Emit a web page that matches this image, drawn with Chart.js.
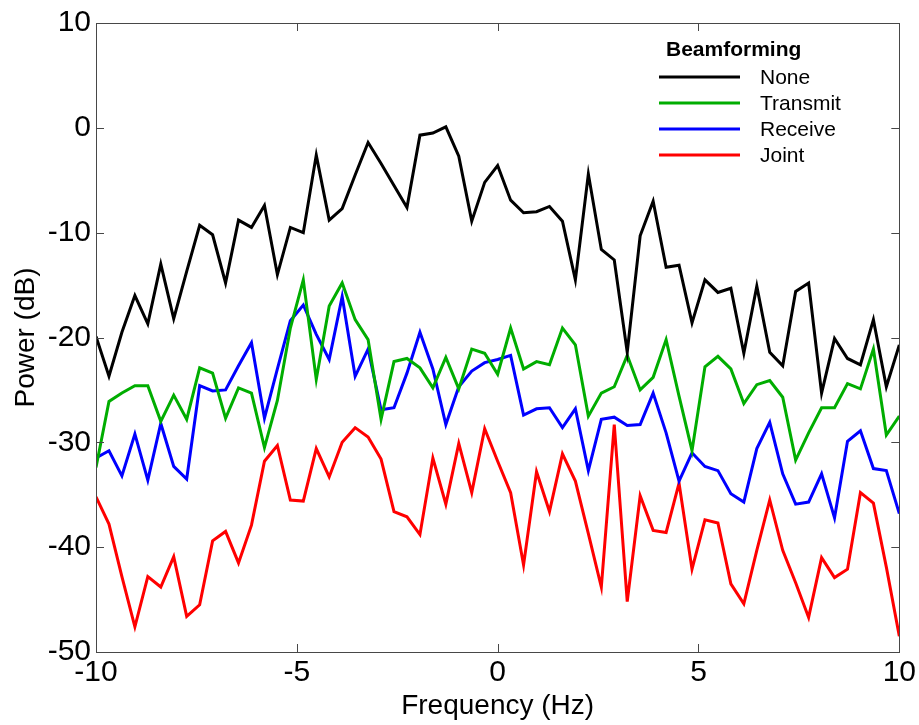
<!DOCTYPE html>
<html>
<head>
<meta charset="utf-8">
<title>Beamforming power spectrum</title>
<script src="https://cdn.jsdelivr.net/npm/chart.js@4.4.1/dist/chart.umd.min.js"></script>
<style>
  body { margin: 0; background: #fff; }
  canvas { display: block; }
</style>
</head>
<body>
<canvas id="powerChart" width="919" height="725"></canvas>
<script>
// frequency bins (Hz)
const freqs = [
    -10, -9.677, -9.355, -9.032, -8.710, -8.387, -8.065, -7.742, -7.419, -7.097,
    -6.774, -6.452, -6.129, -5.806, -5.484, -5.161, -4.839, -4.516, -4.194, -3.871,
    -3.548, -3.226, -2.903, -2.581, -2.258, -1.935, -1.613, -1.290, -0.968, -0.645,
    -0.323, 0, 0.323, 0.645, 0.968, 1.290, 1.613, 1.935, 2.258, 2.581,
    2.903, 3.226, 3.548, 3.871, 4.194, 4.516, 4.839, 5.161, 5.484, 5.806,
    6.129, 6.452, 6.774, 7.097, 7.419, 7.742, 8.065, 8.387, 8.710, 9.032,
    9.355, 9.677, 10
];

// power in dB, one value per bin
const noneDb = [
    -19.9, -23.7, -19.5, -16.0, -18.7, -13.0, -18.2, -13.7, -9.3, -10.2,
    -14.8, -8.8, -9.5, -7.4, -14.0, -9.5, -10.0, -2.6, -8.8, -7.7,
    -4.5, -1.4, -3.4, -5.5, -7.6, -0.7, -0.5, 0.1, -2.7, -8.9,
    -5.2, -3.6, -6.9, -8.1, -8.0, -7.5, -8.9, -14.5, -4.4, -11.6,
    -12.6, -21.4, -10.3, -7.0, -13.3, -13.1, -18.6, -14.5, -15.7, -15.3,
    -21.5, -15.1, -21.4, -22.7, -15.6, -14.8, -25.3, -20.1, -22.0, -22.6,
    -18.3, -24.7, -20.7
];
const transmitDb = [
    -32.4, -26.1, -25.3, -24.6, -24.6, -28.0, -25.5, -27.8, -22.9, -23.4,
    -27.7, -24.8, -25.3, -30.5, -26.0, -19.1, -14.5, -24.0, -17.0, -14.8,
    -18.3, -20.2, -27.8, -22.3, -22.0, -22.9, -24.8, -21.9, -24.9, -21.1,
    -21.5, -23.5, -19.1, -23.0, -22.3, -22.6, -19.1, -20.7, -27.5, -25.3,
    -24.7, -21.7, -25.0, -23.8, -20.2, -25.6, -30.8, -22.8, -21.8, -23.0,
    -26.3, -24.5, -24.1, -25.7, -31.7, -29.1, -26.7, -26.7, -24.4, -24.9,
    -21.1, -29.3, -27.5
];
const receiveDb = [
    -31.5, -30.8, -33.2, -29.2, -33.6, -28.2, -32.3, -33.5, -24.6, -25.1,
    -25.0, -22.7, -20.5, -27.7, -23.0, -18.4, -16.9, -19.7, -22.1, -16.1,
    -23.7, -21.1, -26.9, -26.7, -23.4, -19.5, -23.0, -28.3, -24.7, -23.2,
    -22.4, -22.1, -21.7, -27.4, -26.8, -26.7, -28.6, -26.8, -32.7, -27.8,
    -27.6, -28.4, -28.3, -25.3, -29.1, -33.7, -31.0, -32.3, -32.7, -34.9,
    -35.7, -30.6, -28.1, -33.0, -35.9, -35.7, -33.0, -37.2, -29.9, -28.9,
    -32.5, -32.7, -36.8
];
const jointDb = [
    -35.2, -37.8, -42.8, -47.6, -42.8, -43.8, -40.9, -46.6, -45.5, -39.4,
    -38.5, -41.5, -37.9, -31.8, -30.3, -35.5, -35.6, -30.6, -33.3, -30.0,
    -28.6, -29.5, -31.6, -36.6, -37.1, -38.8, -31.5, -35.9, -30.1, -34.8,
    -28.7, -31.8, -34.8, -41.7, -32.8, -36.6, -31.1, -33.7, -38.7, -43.8,
    -28.3, -45.2, -35.1, -38.4, -38.6, -33.9, -42.1, -37.4, -37.7, -43.5,
    -45.4, -40.3, -35.5, -40.3, -43.4, -46.7, -41.0, -42.9, -42.1, -34.8,
    -35.8, -41.9, -48.5
];

const seriesNames = ['None', 'Transmit', 'Receive', 'Joint'];
const seriesColors = ['#000000', '#00ad00', '#0000ff', '#ff0000'];
const legendTitle = 'Beamforming';

const fontFamily = "'Liberation Sans', Arial, Helvetica, sans-serif";

function toPoints(values) {
    return values.map((v, i) => ({ x: freqs[i], y: v }));
}

// MATLAB style box with ticks pointing inwards
const boxPlugin = {
    id: 'boxPlugin',
    afterDraw(chart) {
        const { ctx, chartArea: a, scales } = chart;
        const tick = 8;
        ctx.save();
        ctx.strokeStyle = '#474747';
        ctx.lineWidth = 1;
        ctx.beginPath();
        scales.x.ticks.forEach(t => {
            const px = Math.round(scales.x.getPixelForValue(t.value)) + 0.5;
            ctx.moveTo(px, a.bottom);
            ctx.lineTo(px, a.bottom - tick);
            ctx.moveTo(px, a.top);
            ctx.lineTo(px, a.top + tick);
        });
        scales.y.ticks.forEach(t => {
            const py = Math.round(scales.y.getPixelForValue(t.value)) + 0.5;
            ctx.moveTo(a.left, py);
            ctx.lineTo(a.left + tick, py);
            ctx.moveTo(a.right, py);
            ctx.lineTo(a.right - tick, py);
        });
        ctx.stroke();
        ctx.strokeRect(Math.round(a.left) + 0.5, Math.round(a.top) + 0.5,
            Math.round(a.right - a.left), Math.round(a.bottom - a.top));
        ctx.restore();
    }
};

// legend inside the axes, top right
const legendPlugin = {
    id: 'legendPlugin',
    afterDatasetsDraw(chart) {
        const ctx = chart.ctx;
        ctx.save();
        ctx.fillStyle = '#000';
        ctx.textBaseline = 'middle';
        ctx.font = 'bold 21px ' + fontFamily;
        ctx.textAlign = 'left';
        ctx.fillText(legendTitle, 666, 50);
        ctx.font = '21px ' + fontFamily;
        chart.data.datasets.forEach((ds, i) => {
            const y = 77 + i * 26;
            ctx.strokeStyle = ds.borderColor;
            ctx.lineWidth = 3;
            ctx.beginPath();
            ctx.moveTo(659, y);
            ctx.lineTo(740, y);
            ctx.stroke();
            ctx.fillText(ds.label, 760, y + 1);
        });
        ctx.restore();
    }
};

const ctx = document.getElementById('powerChart').getContext('2d');

new Chart(ctx, {
    type: 'line',
    data: {
        datasets: [noneDb, transmitDb, receiveDb, jointDb].map((vals, i) => ({
            label: seriesNames[i],
            data: toPoints(vals),
            borderColor: seriesColors[i],
            backgroundColor: seriesColors[i],
            borderWidth: 3,
            pointRadius: 0,
            tension: 0,
            fill: false
        }))
    },
    options: {
        responsive: false,
        animation: false,
        devicePixelRatio: 1,
        layout: {
            padding: { left: 0, top: 19, right: 18, bottom: 0 }
        },
        plugins: {
            legend: { display: false },
            tooltip: { enabled: false }
        },
        scales: {
            x: {
                type: 'linear',
                min: -10,
                max: 10,
                grid: { display: false, drawTicks: false },
                border: { display: false },
                ticks: {
                    stepSize: 5,
                    padding: 3,
                    color: '#000',
                    font: { family: fontFamily, size: 30 }
                },
                title: {
                    display: true,
                    text: 'Frequency (Hz)',
                    color: '#000',
                    padding: { top: 0, bottom: 2 },
                    font: { family: fontFamily, size: 28 }
                },
                afterFit(scale) { scale.height = 73; }
            },
            y: {
                type: 'linear',
                min: -50,
                max: 10,
                grid: { display: false, drawTicks: false },
                border: { display: false },
                ticks: {
                    stepSize: 10,
                    padding: 5,
                    color: '#000',
                    font: { family: fontFamily, size: 30 }
                },
                title: {
                    display: true,
                    text: 'Power (dB)',
                    color: '#000',
                    padding: { top: 9, bottom: 0 },
                    font: { family: fontFamily, size: 28 }
                },
                afterFit(scale) { scale.width = 96; }
            }
        }
    },
    plugins: [boxPlugin, legendPlugin]
});
</script>
</body>
</html>
